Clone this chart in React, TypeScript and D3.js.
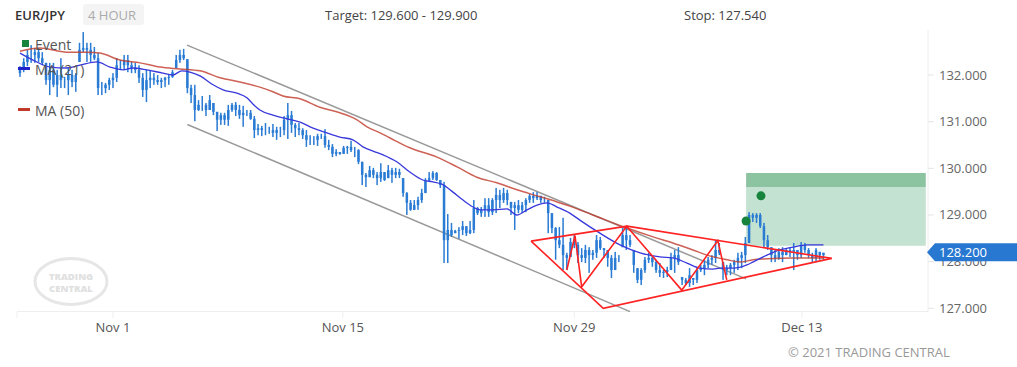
import React from "react";
import * as d3 from "d3";

// ---------- DATA ----------
const highs = [
  132.19, 132.36, 132.54, 132.64, 132.58, 132.58, 132.49, 132.26, 132.26, 132.26,
  132.11, 132.36, 131.96, 132.15, 132.11, 132.04, 132.69, 132.92, 132.69, 132.69,
  132.60, 132.47, 131.85, 131.83, 131.94, 132.04, 132.36, 132.32, 132.43, 132.43,
  132.28, 132.26, 132.21, 132.04, 132.11, 132.11, 132.04, 132.00, 131.94, 131.96,
  132.00, 132.11, 132.43, 132.54, 132.56, 132.34, 131.79, 131.79, 131.46, 131.55,
  131.40, 131.57, 131.40, 131.21, 131.19, 131.19, 131.36, 131.40, 131.42, 131.36,
  131.34, 131.25, 131.25, 131.12, 130.95, 130.91, 130.97, 130.89, 130.95, 130.89,
  130.89, 131.12, 131.40, 131.23, 130.97, 130.97, 130.86, 130.82, 130.71, 130.69,
  130.74, 130.74, 130.84, 130.61, 130.52, 130.41, 130.35, 130.48, 130.48, 130.59,
  130.46, 130.41, 130.14, 129.90, 130.05, 130.01, 129.92, 130.11, 129.92, 130.07,
  130.01, 130.01, 129.99, 129.79, 129.49, 129.32, 129.32, 129.39, 129.56, 129.79,
  129.92, 129.94, 129.92, 129.75, 129.71, 129.02, 128.83, 128.68, 128.74, 128.87,
  128.76, 128.87, 129.32, 129.17, 129.17, 129.36, 129.36, 129.36, 129.58, 129.54,
  129.58, 129.54, 129.28, 129.28, 129.32, 129.28, 129.36, 129.45, 129.49, 129.49,
  129.41, 129.39, 129.32, 129.04, 128.74, 128.74, 128.94, 128.19, 128.51, 128.57,
  128.42, 128.29, 128.36, 128.31, 128.25, 128.57, 128.53, 128.29, 128.25, 128.14,
  128.21, 128.14, 128.72, 128.74, 128.57, 128.25, 127.86, 127.86, 128.10, 128.19,
  128.14, 128.04, 127.97, 127.82, 127.89, 128.19, 128.25, 128.31, 127.67, 127.65,
  127.86, 127.65, 127.89, 127.93, 128.04, 128.10, 128.14, 128.46, 128.40, 127.99,
  127.93, 127.97, 128.04, 128.19, 128.21, 128.53, 129.06, 129.04, 129.04, 129.04,
  128.83, 128.57, 128.31, 128.25, 128.29, 128.31, 128.29, 128.31, 128.40, 128.25,
  128.42, 128.40, 128.29, 128.19, 128.29, 128.21, 128.19,
];
const lows = [
  131.96, 132.06, 132.19, 132.26, 132.26, 132.28, 132.21, 131.79, 131.57, 131.74,
  131.53, 131.72, 131.72, 131.57, 131.74, 131.64, 132.28, 132.49, 132.28, 132.28,
  132.32, 131.57, 131.57, 131.61, 131.68, 131.72, 131.85, 132.11, 132.11, 132.06,
  132.04, 132.04, 131.83, 131.53, 131.42, 131.72, 131.79, 131.79, 131.72, 131.74,
  131.79, 131.94, 132.15, 132.26, 132.32, 131.61, 131.40, 131.01, 131.23, 131.23,
  131.12, 131.25, 131.14, 130.80, 130.93, 130.93, 130.91, 131.21, 131.12, 131.06,
  130.89, 131.12, 131.04, 130.65, 130.71, 130.69, 130.71, 130.74, 130.67, 130.61,
  130.67, 130.71, 130.63, 130.76, 130.67, 130.71, 130.63, 130.46, 130.50, 130.50,
  130.48, 130.63, 130.44, 130.39, 130.24, 130.26, 130.29, 130.31, 130.31, 130.35,
  130.24, 130.09, 129.64, 129.60, 129.81, 129.79, 129.64, 129.71, 129.73, 129.79,
  129.69, 129.79, 129.79, 129.39, 129.00, 129.09, 129.11, 129.11, 129.26, 129.47,
  129.71, 129.75, 129.73, 129.58, 127.97, 127.97, 128.53, 128.61, 128.49, 128.57,
  128.55, 128.59, 128.61, 129.00, 128.96, 128.96, 128.96, 129.00, 129.04, 129.15,
  129.26, 129.21, 129.00, 128.68, 129.04, 129.04, 129.06, 129.26, 129.26, 129.32,
  129.26, 129.26, 128.61, 128.61, 128.04, 128.29, 127.82, 127.82, 128.10, 128.29,
  127.97, 127.99, 127.97, 127.76, 128.04, 128.08, 128.25, 128.08, 127.89, 127.65,
  127.82, 127.99, 128.31, 128.25, 128.31, 127.76, 127.54, 127.50, 127.76, 127.97,
  127.89, 127.76, 127.67, 127.65, 127.67, 127.82, 127.76, 127.93, 127.50, 127.50,
  127.46, 127.50, 127.54, 127.78, 127.71, 127.86, 127.93, 127.97, 128.14, 127.61,
  127.71, 127.71, 127.76, 127.82, 127.86, 127.97, 128.40, 128.85, 128.83, 128.72,
  128.29, 128.25, 127.99, 127.99, 128.04, 127.99, 128.14, 128.10, 127.82, 128.04,
  128.08, 128.19, 128.08, 127.99, 127.99, 128.04, 128.04,
];
const closes = [
  132.11, 132.28, 132.43, 132.43, 132.49, 132.36, 132.26, 131.89, 132.11, 131.79,
  132.00, 131.89, 131.89, 132.00, 131.85, 132.00, 132.54, 132.58, 132.54, 132.43,
  132.36, 131.72, 131.72, 131.79, 131.89, 131.94, 132.21, 132.21, 132.32, 132.21,
  132.15, 132.11, 131.94, 131.68, 131.89, 131.94, 131.89, 131.85, 131.89, 131.94,
  131.96, 132.06, 132.32, 132.43, 132.36, 131.72, 131.57, 131.25, 131.36, 131.36,
  131.25, 131.46, 131.21, 131.04, 131.14, 131.04, 131.25, 131.36, 131.25, 131.14,
  131.19, 131.19, 131.06, 130.82, 130.86, 130.82, 130.82, 130.82, 130.76, 130.82,
  130.82, 131.04, 131.14, 130.93, 130.86, 130.82, 130.71, 130.61, 130.61, 130.61,
  130.69, 130.69, 130.50, 130.46, 130.31, 130.35, 130.31, 130.44, 130.46, 130.39,
  130.39, 130.14, 129.86, 129.81, 129.96, 129.86, 129.79, 129.92, 129.75, 129.96,
  129.86, 129.92, 129.86, 129.47, 129.26, 129.11, 129.21, 129.32, 129.47, 129.75,
  129.79, 129.90, 129.75, 129.64, 128.46, 128.68, 128.57, 128.66, 128.68, 128.76,
  128.61, 128.68, 129.15, 129.04, 129.11, 129.21, 129.06, 129.32, 129.43, 129.32,
  129.47, 129.32, 129.15, 129.21, 129.11, 129.21, 129.32, 129.41, 129.36, 129.41,
  129.32, 129.32, 129.04, 128.72, 128.46, 128.36, 128.14, 128.08, 128.42, 128.36,
  128.14, 128.08, 128.25, 128.14, 128.19, 128.46, 128.29, 128.25, 128.08, 127.82,
  128.08, 128.08, 128.57, 128.46, 128.36, 127.93, 127.61, 127.82, 128.04, 128.08,
  127.99, 127.82, 127.76, 127.78, 127.82, 128.08, 128.14, 127.99, 127.61, 127.54,
  127.71, 127.61, 127.82, 127.86, 127.93, 128.04, 128.08, 128.25, 128.19, 127.82,
  127.86, 127.93, 127.99, 128.08, 128.14, 128.40, 129.00, 128.94, 129.00, 128.76,
  128.46, 128.31, 128.14, 128.08, 128.21, 128.14, 128.25, 128.21, 128.25, 128.14,
  128.36, 128.25, 128.14, 128.08, 128.25, 128.14, 128.20,
];
const firstOpen = 132.04;

const ma21Idx = [0, 3.5, 8.1, 12.6, 16.1, 20.7, 24.2, 27.7, 30.4, 34.1, 38.4, 41.1, 43.5, 45.7, 48.4, 51.9, 54.6, 58.3, 61, 62.6, 64.5, 68, 71.8, 75.3, 78.8, 82.5, 86, 89.5, 92.2, 94.9, 97.6, 101.3, 104.8, 108.3, 111, 113.4, 116.4, 119.1, 121.8, 123.7, 127.2, 130.9, 133.6, 136.3, 139, 141.7, 144.4, 147.8, 150.5, 155.9, 161.3, 166.7, 172, 175.5, 179.3, 182.8, 186.3, 188.2, 191.7, 195.4, 197, 200.8, 204.3, 207.8, 211.6, 216];
const ma21Val = [132.47, 132.32, 132.17, 132.15, 132.21, 132.28, 132.17, 132.11, 132.15, 132.11, 132.04, 132.0, 132.09, 132.06, 131.98, 131.79, 131.68, 131.61, 131.51, 131.38, 131.25, 131.14, 131.06, 130.99, 130.86, 130.76, 130.67, 130.61, 130.46, 130.37, 130.29, 130.14, 129.92, 129.75, 129.71, 129.66, 129.49, 129.32, 129.17, 129.11, 129.11, 129.13, 129.0, 129.11, 129.21, 129.26, 129.17, 129.04, 128.89, 128.61, 128.36, 128.19, 128.1, 128.08, 127.97, 127.86, 127.84, 127.86, 127.86, 127.93, 127.99, 128.14, 128.25, 128.31, 128.36, 128.36];
const ma50Idx = [0, 5.4, 12.6, 18, 21.5, 26.9, 32.3, 37.6, 43, 48.4, 53.8, 59.1, 64.5, 68, 70.7, 75.3, 80.6, 86, 90.6, 93.3, 96.8, 99.5, 104.8, 112.1, 117.5, 122.8, 128.2, 133.6, 139, 144.4, 147.8, 154, 163.2, 170.2, 175.5, 180.9, 184.7, 190.1, 193.5, 197, 200.8, 207.8, 216];
const ma50Val = [132.51, 132.58, 132.49, 132.49, 132.47, 132.32, 132.26, 132.17, 132.13, 132.09, 131.94, 131.85, 131.74, 131.64, 131.55, 131.49, 131.31, 131.19, 131.04, 130.89, 130.76, 130.65, 130.44, 130.24, 130.03, 129.81, 129.69, 129.54, 129.41, 129.28, 129.19, 129.0, 128.72, 128.53, 128.4, 128.25, 128.14, 128.04, 127.99, 128.04, 128.06, 128.08, 128.08];

// trend lines as [barIndex, price]
const channelUpper: [number, number][] = [[44.9, 132.64], [195.2, 127.63]];
const channelLower: [number, number][] = [[45, 130.94], [164, 126.93]];
const zigzag: [number, number][] = [[147, 127.82], [149.2, 128.56], [151, 127.46], [163.1, 128.76], [177.9, 127.39], [187.6, 128.45], [190, 127.61]];
const triangleTop: [number, number][] = [[137.4, 128.44], [163.2, 128.76], [218.2, 128.07]];
const triangleBottom: [number, number][] = [[137.4, 128.44], [156.8, 127.0], [218.2, 128.07]];

const eventIdx = [195.2, 199.2];
const eventPrice = [128.87, 129.41];

const targetLow = 129.6;
const targetHigh = 129.9;
const entryPrice = 128.34;
const zoneStartIdx = 195.2;
const zoneEndIdx = 243.5;
const lastPrice = 128.2;

const yTicks = [127, 128, 129, 130, 131, 132];
const xTickIdx = [25, 86.8, 149, 210.2];
const xTickLabels = ["Nov 1", "Nov 15", "Nov 29", "Dec 13"];

// ---------- CHART ----------
const W = 1017;
const H = 367;
const PL = 17, PR = 928, PT = 30, PB = 312;
const FONT = "'Open Sans', 'Noto Sans', sans-serif";

export default function App() {
  const x = d3.scaleLinear().domain([-0.8, 244.1]).range([PL, PR]);
  const y = d3.scaleLinear().domain([127, 132]).range([308.3, 75]);

  const lineXY = d3
    .line<[number, number]>()
    .x((d) => x(d[0]))
    .y((d) => y(d[1]));
  const smooth = d3
    .line<[number, number]>()
    .x((d) => x(d[0]))
    .y((d) => y(d[1]))
    .curve(d3.curveMonotoneX);

  const ma21 = ma21Idx.map((v, i) => [v, ma21Val[i]] as [number, number]);
  const ma50 = ma50Idx.map((v, i) => [v, ma50Val[i]] as [number, number]);

  const barColor = "#2a7bd4";
  const yl = y(lastPrice);

  return (
    <div style={{ position: "fixed", left: 0, top: 0, background: "#fff" }}>
      <svg width={W} height={H} style={{ display: "block", fontFamily: FONT }}>
        <defs>
          <clipPath id="plotClip">
            <rect x={PL} y={PT} width={PR - PL} height={PB - PT} />
          </clipPath>
        </defs>
        <rect x={0} y={0} width={W} height={H} fill="#fff" />

        {/* header */}
        <text x={15} y={20} fontSize={13} fontWeight={600} fill="#333">EUR/JPY</text>
        <rect x={83} y={4} width={61} height={21} rx={3} fill="#f4f4f4" />
        <text x={88} y={20} fontSize={13} fill="#aaa">4 HOUR</text>
        <text x={325} y={20} fontSize={13} fill="#444">Target: 129.600 - 129.900</text>
        <text x={684} y={20} fontSize={13} fill="#444">Stop: 127.540</text>

        {/* watermark */}
        <g>
          <ellipse cx={71} cy={281.5} rx={36} ry={23} fill="none" stroke="#e6e6e6" strokeWidth={3} />
          <text x={71} y={280} textAnchor="middle" fontSize={9.5} fontWeight={800} fill="#e0e0e0">TRADING</text>
          <text x={71} y={292} textAnchor="middle" fontSize={9.5} fontWeight={800} fill="#e0e0e0">CENTRAL</text>
        </g>

        {/* axes frame */}
        <line x1={PR} x2={PR} y1={PT} y2={PB} stroke="#eeeeee" />
        <line x1={PL} x2={PR} y1={PB - 0.5} y2={PB - 0.5} stroke="#eeeeee" />
        <line x1={PL} x2={PL} y1={PB} y2={PB + 6} stroke="#eeeeee" />
        {yTicks.map((t) => (
          <g key={t}>
            <line x1={PR} x2={PR + 6} y1={y(t)} y2={y(t)} stroke="#e4e4e4" />
            {t !== 128 && (
              <text x={939} y={y(t) + 4.5} fontSize={13} fill="#666">{t.toFixed(3)}</text>
            )}
          </g>
        ))}
        {xTickIdx.map((t, i) => (
          <g key={i}>
            <line x1={x(t)} x2={x(t)} y1={PB} y2={PB + 6} stroke="#eeeeee" />
            <text x={x(t)} y={332} textAnchor="middle" fontSize={13} fill="#555">{xTickLabels[i]}</text>
          </g>
        ))}

        <g clipPath="url(#plotClip)">
          {/* target zone */}
          <rect
            x={x(zoneStartIdx)}
            width={x(zoneEndIdx) - x(zoneStartIdx)}
            y={y(targetLow)}
            height={y(entryPrice) - y(targetLow)}
            fill="#c4e2d1"
          />
          <rect
            x={x(zoneStartIdx)}
            width={x(zoneEndIdx) - x(zoneStartIdx)}
            y={y(targetHigh)}
            height={y(targetLow) - y(targetHigh)}
            fill="#8cc3a0"
          />

          {/* channel */}
          <path d={lineXY(channelUpper) || ""} fill="none" stroke="#999" strokeWidth={1.5} />
          <path d={lineXY(channelLower) || ""} fill="none" stroke="#999" strokeWidth={1.5} />

          {/* bars */}
          {highs.map((h, i) => {
            const l = lows[i];
            const c = closes[i];
            const o = i === 0 ? firstOpen : closes[i - 1];
            const bx = x(i);
            const top = Math.min(Math.max(o, c), h);
            const bot = Math.max(Math.min(o, c), l);
            return (
              <g key={i}>
                <rect x={bx - 0.75} y={y(h)} width={1.5} height={Math.max(1, y(l) - y(h))} fill={barColor} />
                {top > bot && (
                  <rect x={bx - 1.25} y={y(top)} width={2.5} height={Math.max(1, y(bot) - y(top))} fill={barColor} />
                )}
              </g>
            );
          })}

          {/* moving averages */}
          <path d={smooth(ma50) || ""} fill="none" stroke="#c0392b" strokeOpacity={0.8} strokeWidth={1.5} />
          <path d={smooth(ma21) || ""} fill="none" stroke="#3838dc" strokeWidth={1.3} />

          {/* pattern lines */}
          <path d={lineXY(triangleTop) || ""} fill="none" stroke="#ff2222" strokeWidth={1.6} />
          <path d={lineXY(triangleBottom) || ""} fill="none" stroke="#ff2222" strokeWidth={1.6} />
          <path d={lineXY(zigzag) || ""} fill="none" stroke="#ff2222" strokeWidth={1.6} />

          {/* events */}
          {eventIdx.map((e, i) => (
            <circle key={i} cx={x(e)} cy={y(eventPrice[i])} r={4.5} fill="#16843c" />
          ))}
        </g>

        {/* legend */}
        <rect x={22} y={40} width={7} height={7} fill="#16843c" />
        <text x={35} y={50} fontSize={14} fill="#555">Event</text>
        <line x1={18} x2={30} y1={68.5} y2={68.5} stroke="#2222cc" strokeWidth={3} />
        <text x={35} y={75} fontSize={14} fill="#555">MA (21)</text>
        <line x1={18} x2={30} y1={109.5} y2={109.5} stroke="#c0392b" strokeWidth={3} />
        <text x={35} y={116} fontSize={14} fill="#555">MA (50)</text>

        {/* last price label (covers the 128.000 tick label) */}
        <text x={939} y={y(128) + 4.5} fontSize={13} fill="#666">128.000</text>
        <path
          d={`M${PR - 1},${yl} L${PR + 7},${yl - 9} L${W},${yl - 9} L${W},${yl + 9} L${PR + 7},${yl + 9} Z`}
          fill="#2878d2"
        />
        <text x={939} y={yl + 4.5} fontSize={13} fill="#fff">{lastPrice.toFixed(3)}</text>

        {/* footer */}
        <text x={788} y={357} fontSize={13} fill="#999">© 2021 TRADING CENTRAL</text>
      </svg>
    </div>
  );
}
